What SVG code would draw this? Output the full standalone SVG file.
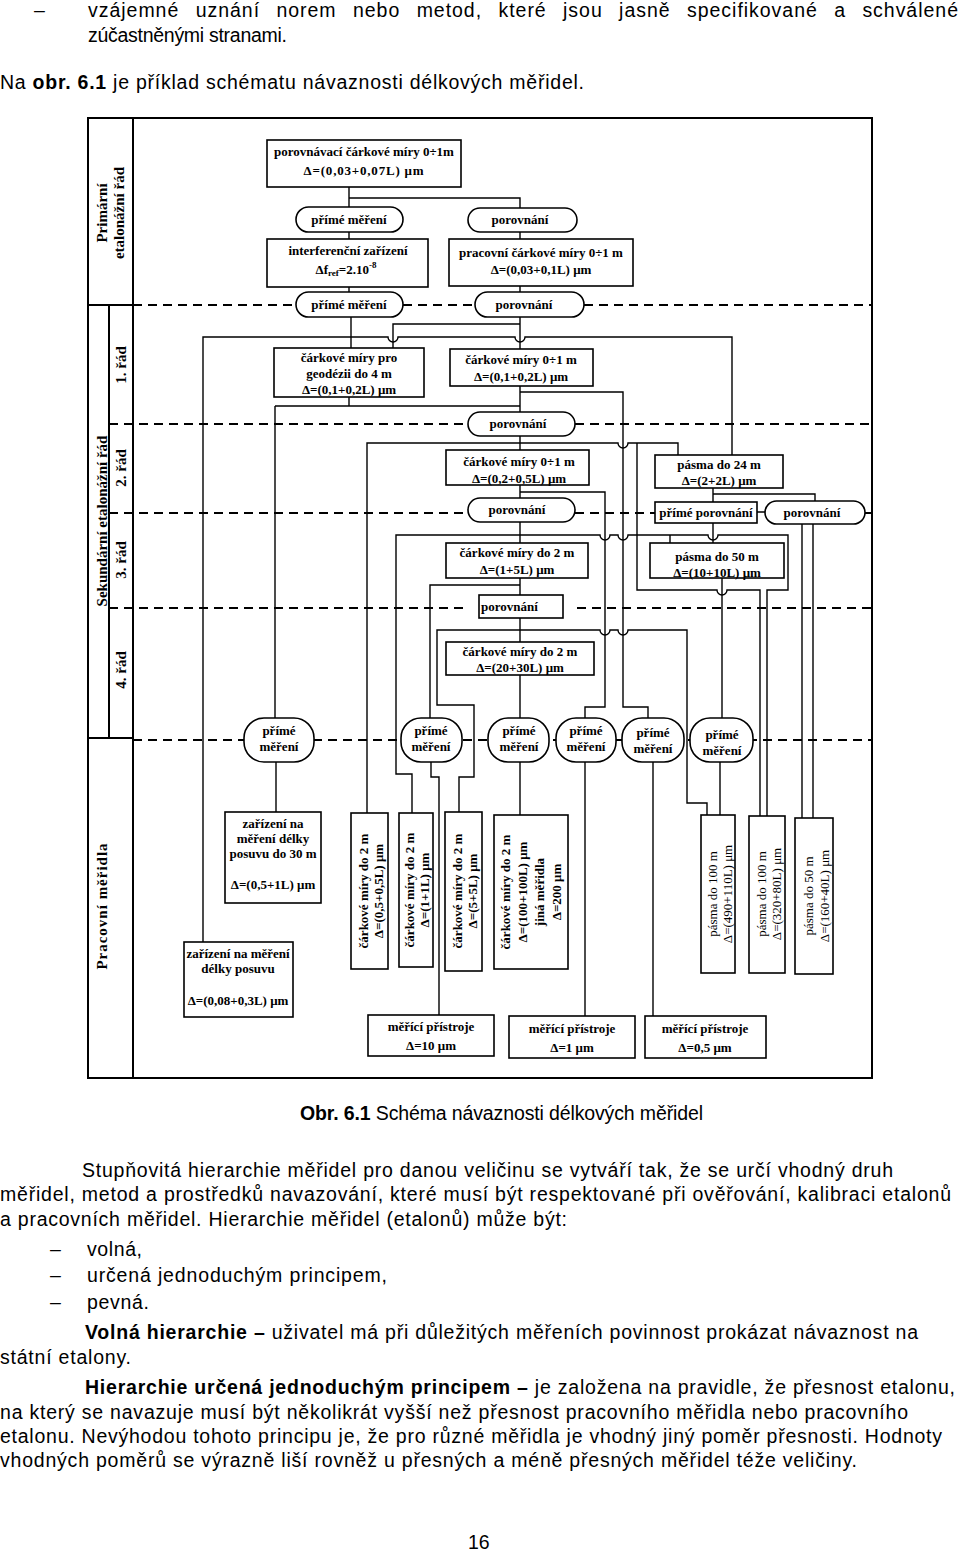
<svg xmlns="http://www.w3.org/2000/svg" width="960" height="1550" viewBox="0 0 960 1550">
<style>
.bx{fill:#fff;stroke:#000;stroke-width:1.6}
.pl{fill:#fff;stroke:#000;stroke-width:1.6}
.c{fill:none;stroke:#000;stroke-width:1.4}
.d{fill:none;stroke:#000;stroke-width:2;stroke-dasharray:9 6}
.fr{fill:none;stroke:#000;stroke-width:2}
.t{font-family:"Liberation Serif","Times New Roman",serif;font-weight:bold;font-size:13px;text-anchor:middle;fill:#000}
.ts{font-family:"Liberation Serif","Times New Roman",serif;font-weight:bold;font-size:13px;text-anchor:start;fill:#000}
.tr{font-family:"Liberation Serif","Times New Roman",serif;font-size:13px;text-anchor:middle;fill:#000}
.lab{font-family:"Liberation Serif","Times New Roman",serif;font-weight:bold;font-size:15px;text-anchor:middle;fill:#000}
.p{font-family:"Liberation Sans",Arial,sans-serif;font-size:19.5px;fill:#000}
.bd{font-weight:bold}
</style>

<!-- page text -->
<text class="p" x="34" y="17">–</text>
<text class="p" x="88" y="17" word-spacing="10" textLength="870" lengthAdjust="spacing">vzájemné uznání norem nebo metod, které jsou jasně specifikované a schválené</text>
<text class="p" x="88" y="42" textLength="199" lengthAdjust="spacing">zúčastněnými stranami.</text>
<text class="p" x="0" y="89" textLength="584" lengthAdjust="spacing">Na <tspan class="bd">obr. 6.1</tspan> je příklad schématu návaznosti délkových měřidel.</text>

<!-- frame and left column -->
<g id="frame">
<rect class="fr" x="88" y="118" width="784" height="960"/>
<line class="fr" x1="133" y1="118" x2="133" y2="1078"/>
<line class="fr" x1="109" y1="305" x2="109" y2="738"/>
<line class="fr" x1="88" y1="305" x2="133" y2="305"/>
<line class="fr" x1="88" y1="738" x2="133" y2="738"/>
<text class="lab" transform="translate(107,213) rotate(-90)">Primární</text>
<text class="lab" transform="translate(124,213) rotate(-90)">etalonážní řád</text>
<text class="lab" transform="translate(126,365) rotate(-90)">1. řád</text>
<text class="lab" transform="translate(126,468) rotate(-90)">2. řád</text>
<text class="lab" transform="translate(126,560) rotate(-90)">3. řád</text>
<text class="lab" transform="translate(126,670) rotate(-90)">4. řád</text>
<text class="lab" transform="translate(107,521) rotate(-90)">Sekundární etalonážní řád</text>
<text class="lab" transform="translate(107,906) rotate(-90)" letter-spacing="1">Pracovní měřidla</text>
</g>

<!-- dashed level lines -->
<g id="levels">
<path class="d" d="M133,305 H296 M403,305 H475 M584,305 H872"/>
<path class="d" d="M109,424 H468 M575,424 H872"/>
<path class="d" d="M109,513 H468 M575,513 H655 M865,513 H872"/>
<path class="d" d="M109,608 H465 M577,608 H872"/>
<path class="d" d="M133,740 H872"/>
</g>

<!-- connectors -->
<g id="connectors">
<path class="c" d="M349,187 V207 M349,198 H520 V208"/>
<path class="c" d="M349,232 V239 M349,287 V292"/>
<path class="c" d="M520,232 V239 M520,286 V292"/>
<path class="c" d="M351,317 V348"/>
<path class="c" d="M520,317 V349 M520,324 H393 V348"/>
<path class="c" d="M203,942 V337 H388 a5,5 0 0 0 10,0 H515 a5,5 0 0 0 10,0 H732 V455"/>
<path class="c" d="M349,397 V406 M275,406 H520 M275,406 V718"/>
<path class="c" d="M520,386 V412"/>
<path class="c" d="M520,392 H623 V707 H648 V718"/>
<path class="c" d="M520,436 V450"/>
<path class="c" d="M367,813 V443 H618 a5,5 0 0 0 10,0 H678 V455"/>
<path class="c" d="M637,443 V590 H717 a5,5 0 0 0 10,0 H760 V816"/>
<path class="c" d="M520,485 V498 M520,492 H605 V707 H585 V718"/>
<path class="c" d="M520,522 V543"/>
<path class="c" d="M412,813 V774 H396 V535 H600 a5,5 0 0 0 10,0 H618 a5,5 0 0 0 10,0 H708 a5,5 0 0 0 10,0 H788 V590 H767 V816"/>
<path class="c" d="M670,535 V543"/>
<path class="c" d="M713,488 V502 M713,494 H815 V501 M713,523 V543 M757,512 H765"/>
<path class="c" d="M802,524 V818 M813,524 V818"/>
<path class="c" d="M722,578 V718"/>
<path class="c" d="M520,578 V595 M520,585 H430 V718"/>
<path class="c" d="M520,618 V642"/>
<path class="c" d="M459,812 V777 H474 V705 H437 V630 H600 a5,5 0 0 0 10,0 H618 a5,5 0 0 0 10,0 H687 V803 H707 V815"/>
<path class="c" d="M520,675 V718"/>
<path class="c" d="M276,762 V812"/>
<path class="c" d="M431,762 V777 H439 V1015"/>
<path class="c" d="M520,762 V815"/>
<path class="c" d="M585,762 V1016"/>
<path class="c" d="M653,762 V1016"/>
<path class="c" d="M720,762 V816"/>
</g>

<!-- primary level -->
<g id="n-porovnavaci">
<rect class="bx" x="267" y="140" width="194" height="47"/>
<text class="t" x="364" y="156">porovnávací čárkové míry 0÷1m</text>
<text class="t" x="364" y="175" letter-spacing="0.8">Δ=(0,03+0,07L) μm</text>
</g>
<g id="n-prime1">
<rect class="pl" x="296" y="207" width="107" height="25" rx="12.5"/>
<text class="t" x="349" y="224">přímé měření</text>
</g>
<g id="n-porov1">
<rect class="pl" x="468" y="208" width="109" height="24" rx="12"/>
<text class="t" x="520" y="224">porovnání</text>
</g>
<g id="n-interf">
<rect class="bx" x="267" y="239" width="161" height="48"/>
<text class="t" x="348" y="255">interferenční zařízení</text>
<text class="t" x="346" y="274">Δf<tspan font-size="9" dy="2">ref</tspan><tspan dy="-2">=2.10</tspan><tspan font-size="9" dy="-6">-8</tspan></text>
</g>
<g id="n-pracovni">
<rect class="bx" x="449" y="239" width="184" height="47"/>
<text class="t" x="541" y="257">pracovní čárkové míry 0÷1 m</text>
<text class="t" x="541" y="274">Δ=(0,03+0,1L) μm</text>
</g>
<g id="n-prime2">
<rect class="pl" x="296" y="292" width="107" height="25" rx="12.5"/>
<text class="t" x="349" y="309">přímé měření</text>
</g>
<g id="n-porov2">
<rect class="pl" x="475" y="292" width="109" height="25" rx="12.5"/>
<text class="t" x="524" y="309">porovnání</text>
</g>

<!-- 1st order -->
<g id="n-geodezie">
<rect class="bx" x="274" y="348" width="150" height="49"/>
<text class="t" x="349" y="362">čárkové míry pro</text>
<text class="t" x="349" y="378">geodézii do 4 m</text>
<text class="t" x="349" y="394">Δ=(0,1+0,2L) μm</text>
</g>
<g id="n-cm1">
<rect class="bx" x="450" y="349" width="143" height="37"/>
<text class="t" x="521" y="364">čárkové míry 0÷1 m</text>
<text class="t" x="521" y="381">Δ=(0,1+0,2L) μm</text>
</g>

<!-- 2nd order -->
<g id="n-porov3">
<rect class="pl" x="468" y="412" width="107" height="24" rx="12"/>
<text class="t" x="518" y="428">porovnání</text>
</g>
<g id="n-cm2">
<rect class="bx" x="446" y="450" width="143" height="35"/>
<text class="t" x="519" y="466">čárkové míry 0÷1 m</text>
<text class="t" x="519" y="483">Δ=(0,2+0,5L) μm</text>
</g>
<g id="n-pasma24">
<rect class="bx" x="655" y="455" width="128" height="33"/>
<text class="t" x="719" y="469">pásma do 24 m</text>
<text class="t" x="719" y="485">Δ=(2+2L) μm</text>
</g>
<g id="n-porov4">
<rect class="pl" x="468" y="498" width="107" height="24" rx="12"/>
<text class="t" x="517" y="514">porovnání</text>
</g>
<g id="n-primeporov">
<rect class="bx" x="655" y="502" width="102" height="21"/>
<text class="t" x="706" y="517">přímé porovnání</text>
</g>
<g id="n-porov5">
<rect class="pl" x="765" y="501" width="100" height="23" rx="11.5"/>
<text class="t" x="812" y="517">porovnání</text>
</g>

<!-- 3rd order -->
<g id="n-cm3">
<rect class="bx" x="446" y="543" width="142" height="35"/>
<text class="t" x="517" y="557">čárkové míry do 2 m</text>
<text class="t" x="517" y="574">Δ=(1+5L) μm</text>
</g>
<g id="n-pasma50">
<rect class="bx" x="650" y="543" width="134" height="35"/>
<text class="t" x="717" y="561">pásma do 50 m</text>
<text class="t" x="717" y="577">Δ=(10+10L) μm</text>
</g>
<g id="n-porov6">
<rect class="bx" x="479" y="595" width="84" height="23"/>
<text class="ts" x="481" y="611">porovnání</text>
</g>

<!-- 4th order -->
<g id="n-cm4">
<rect class="bx" x="446" y="642" width="148" height="33"/>
<text class="t" x="520" y="656">čárkové míry do 2 m</text>
<text class="t" x="520" y="672">Δ=(20+30L) μm</text>
</g>

<!-- direct measurement pills -->
<g id="n-pm1"><rect class="pl" x="244" y="718" width="70" height="44" rx="20"/><text class="t" x="279" y="735">přímé</text><text class="t" x="279" y="751">měření</text></g>
<g id="n-pm2"><rect class="pl" x="401" y="718" width="61" height="44" rx="20"/><text class="t" x="431" y="735">přímé</text><text class="t" x="431" y="751">měření</text></g>
<g id="n-pm3"><rect class="pl" x="488" y="718" width="61" height="44" rx="20"/><text class="t" x="519" y="735">přímé</text><text class="t" x="519" y="751">měření</text></g>
<g id="n-pm4"><rect class="pl" x="556" y="718" width="60" height="44" rx="20"/><text class="t" x="586" y="735">přímé</text><text class="t" x="586" y="751">měření</text></g>
<g id="n-pm5"><rect class="pl" x="622" y="718" width="62" height="44" rx="20"/><text class="t" x="653" y="737">přímé</text><text class="t" x="653" y="753">měření</text></g>
<g id="n-pm6"><rect class="pl" x="690" y="718" width="63" height="44" rx="20"/><text class="t" x="722" y="739">přímé</text><text class="t" x="722" y="755">měření</text></g>

<!-- working instruments -->
<g id="n-posuv30">
<rect class="bx" x="225" y="812" width="96" height="91"/>
<text class="t" x="273" y="828">zařízení na</text>
<text class="t" x="273" y="843">měření délky</text>
<text class="t" x="273" y="858">posuvu do 30 m</text>
<text class="t" x="273" y="889">Δ=(0,5+1L) μm</text>
</g>
<g id="n-posuv">
<rect class="bx" x="184" y="942" width="109" height="75"/>
<text class="t" x="238" y="958">zařízení na měření</text>
<text class="t" x="238" y="973">délky posuvu</text>
<text class="t" x="238" y="1005">Δ=(0,08+0,3L) μm</text>
</g>
<g id="n-vA">
<rect class="bx" x="351" y="813" width="37" height="156"/>
<g transform="translate(369.5,891) rotate(-90)"><text class="t" y="-2">čárkové míry do 2 m</text><text class="t" y="13">Δ=(0,5+0,5L) μm</text></g>
</g>
<g id="n-vB">
<rect class="bx" x="399" y="813" width="34" height="154"/>
<g transform="translate(416,890) rotate(-90)"><text class="t" y="-2">čárkové míry do 2 m</text><text class="t" y="13">Δ=(1+1L) μm</text></g>
</g>
<g id="n-vC">
<rect class="bx" x="445" y="812" width="37" height="159"/>
<g transform="translate(463.5,891) rotate(-90)"><text class="t" y="-2">čárkové míry do 2 m</text><text class="t" y="13">Δ=(5+5L) μm</text></g>
</g>
<g id="n-vD">
<rect class="bx" x="494" y="815" width="74" height="154"/>
<g transform="translate(531,892) rotate(-90)"><text class="t" y="-21">čárkové míry do 2 m</text><text class="t" y="-4">Δ=(100+100L) μm</text><text class="t" y="13">jiná měřidla</text><text class="t" y="30">Δ=200 μm</text></g>
</g>
<g id="n-vE">
<rect class="bx" x="701" y="815" width="34" height="158"/>
<g transform="translate(718,894) rotate(-90)"><text class="tr" y="-1">pásma do 100 m</text><text class="tr" y="14">Δ=(490+110L) μm</text></g>
</g>
<g id="n-vF">
<rect class="bx" x="749" y="816" width="36" height="157"/>
<g transform="translate(767,894) rotate(-90)"><text class="tr" y="-1">pásma do 100 m</text><text class="tr" y="14">Δ=(320+80L) μm</text></g>
</g>
<g id="n-vG">
<rect class="bx" x="795" y="818" width="38" height="156"/>
<g transform="translate(814,896) rotate(-90)"><text class="tr" y="-1">pásma do 50 m</text><text class="tr" y="15">Δ=(160+40L) μm</text></g>
</g>
<g id="n-pristroj1">
<rect class="bx" x="368" y="1015" width="126" height="41"/>
<text class="t" x="431" y="1031">měřící přístroje</text>
<text class="t" x="431" y="1050">Δ=10 μm</text>
</g>
<g id="n-pristroj2">
<rect class="bx" x="509" y="1016" width="126" height="42"/>
<text class="t" x="572" y="1033">měřící přístroje</text>
<text class="t" x="572" y="1052">Δ=1 μm</text>
</g>
<g id="n-pristroj3">
<rect class="bx" x="645" y="1016" width="121" height="42"/>
<text class="t" x="705" y="1033">měřící přístroje</text>
<text class="t" x="705" y="1052">Δ=0,5 μm</text>
</g>

<!-- caption and body -->
<text class="p" x="300" y="1120" textLength="403" lengthAdjust="spacing"><tspan class="bd">Obr. 6.1</tspan> Schéma návaznosti délkových měřidel</text>
<text class="p" x="82" y="1177" textLength="811" lengthAdjust="spacing">Stupňovitá hierarchie měřidel pro danou veličinu se vytváří tak, že se určí vhodný druh</text>
<text class="p" x="0" y="1201" textLength="951" lengthAdjust="spacing">měřidel, metod a prostředků navazování, které musí být respektované při ověřování, kalibraci etalonů</text>
<text class="p" x="0" y="1226" textLength="567" lengthAdjust="spacing">a pracovních měřidel. Hierarchie měřidel (etalonů) může být:</text>
<text class="p" x="50" y="1256">–</text>
<text class="p" x="87" y="1256" textLength="55" lengthAdjust="spacing">volná,</text>
<text class="p" x="50" y="1282">–</text>
<text class="p" x="87" y="1282" textLength="300" lengthAdjust="spacing">určená jednoduchým principem,</text>
<text class="p" x="50" y="1309">–</text>
<text class="p" x="87" y="1309" textLength="62" lengthAdjust="spacing">pevná.</text>
<text class="p" x="85" y="1339" textLength="833" lengthAdjust="spacing"><tspan class="bd">Volná hierarchie –</tspan> uživatel má při důležitých měřeních povinnost prokázat návaznost na</text>
<text class="p" x="0" y="1364" textLength="131" lengthAdjust="spacing">státní etalony.</text>
<text class="p" x="85" y="1394" textLength="870" lengthAdjust="spacing"><tspan class="bd">Hierarchie určená jednoduchým principem –</tspan> je založena na pravidle, že přesnost etalonu,</text>
<text class="p" x="0" y="1419" textLength="908" lengthAdjust="spacing">na který se navazuje musí být několikrát vyšší než přesnost pracovního měřidla nebo pracovního</text>
<text class="p" x="0" y="1443" textLength="942" lengthAdjust="spacing">etalonu. Nevýhodou tohoto principu je, že pro různé měřidla je vhodný jiný poměr přesnosti. Hodnoty</text>
<text class="p" x="0" y="1467" textLength="857" lengthAdjust="spacing">vhodných poměrů se výrazně liší rovněž u přesných a méně přesných měřidel téže veličiny.</text>
<text class="p" x="468" y="1549">16</text>
</svg>
